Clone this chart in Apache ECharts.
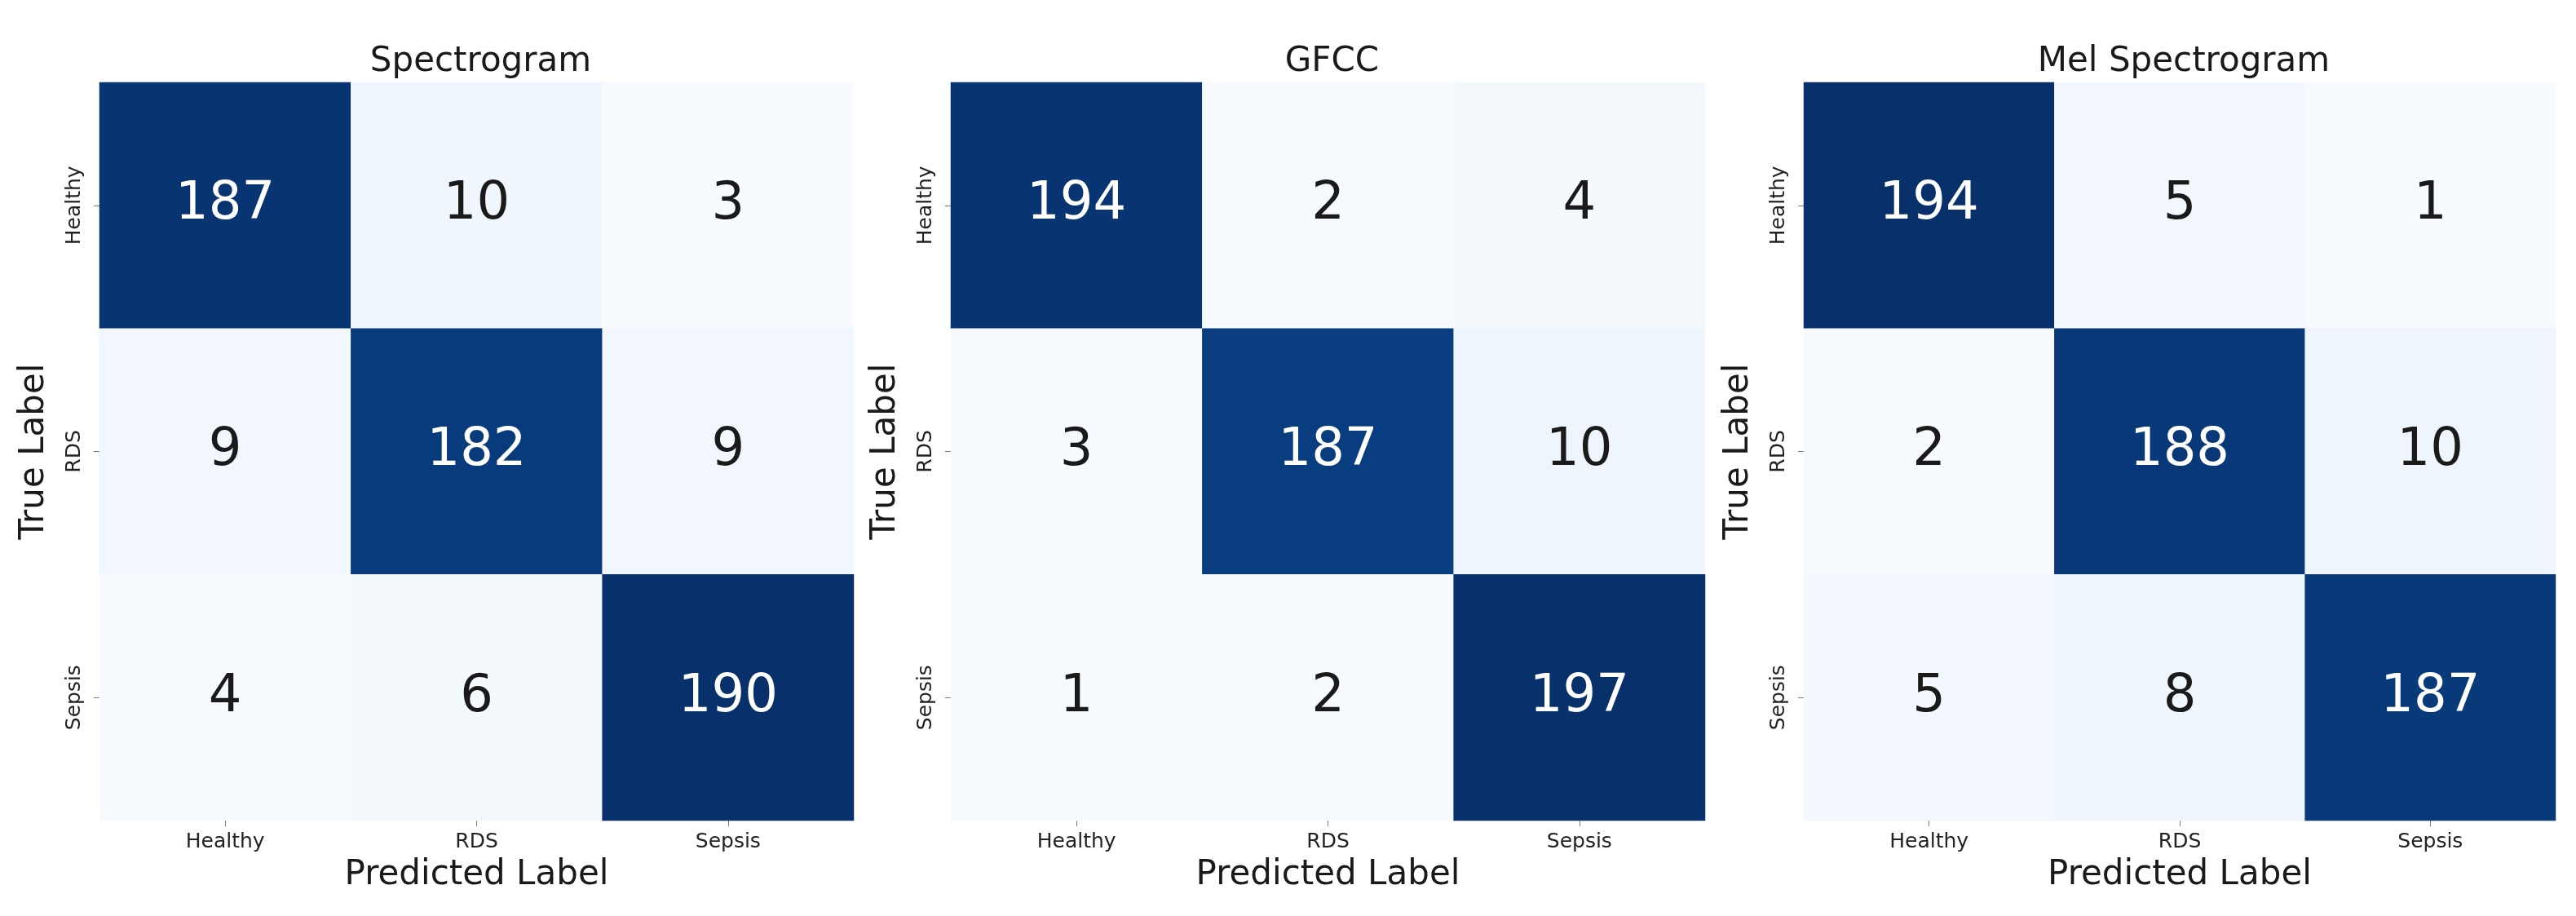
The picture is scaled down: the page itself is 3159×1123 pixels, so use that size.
<!DOCTYPE html>
<html>
<head>
<meta charset="utf-8">
<script src="https://cdn.jsdelivr.net/npm/echarts@6/dist/echarts.min.js"></script>
<style>
  html, body { margin: 0; padding: 0; background: #ffffff; }
  #chart { width: 3159px; height: 1123px; }
</style>
</head>
<body>
<div id="chart"></div>
<script>
  // class labels (rows = true, columns = predicted)
  const classes = ['Healthy', 'RDS', 'Sepsis'];
  const titles = ['Spectrogram', 'GFCC', 'Mel Spectrogram'];

  // confusion matrices, row by row
  const spectrogram = [[187, 10, 3], [9, 182, 9], [4, 6, 190]];
  const gfcc = [[194, 2, 4], [3, 187, 10], [1, 2, 197]];
  const melSpectrogram = [[194, 5, 1], [2, 188, 10], [5, 8, 187]];

  const matrices = [spectrogram, gfcc, melSpectrogram];

  // matplotlib "Blues"
  const blues = ['#f7fbff', '#deebf7', '#c6dbef', '#9ecae1', '#6baed6',
                 '#4292c6', '#2171b5', '#08519c', '#08306b'];

  const panels = [
    {left: 122, width: 925},
    {left: 1166, width: 925},
    {left: 2212, width: 922}
  ];
  const gridTop = 101, gridHeight = 905;
  const font = 'DejaVu Sans';

  let grid = [], xAxis = [], yAxis = [], series = [], visualMap = [], title = [];

  matrices.forEach((m, i) => {
    let flat = [].concat(...m);
    let lo = Math.min(...flat), hi = Math.max(...flat);
    let data = [];
    for (let r = 0; r < m.length; r++) {
      for (let c = 0; c < m[r].length; c++) {
        let v = m[r][c];
        data.push({
          value: [c, r, v],
          label: {color: v > (lo + hi) / 2 ? '#ffffff' : '#1a1a1a'}
        });
      }
    }

    grid.push({left: panels[i].left, top: gridTop, width: panels[i].width, height: gridHeight});

    title.push({
      text: titles[i],
      left: panels[i].left + panels[i].width / 2,
      top: 50,
      textAlign: 'center',
      textStyle: {fontFamily: font, fontSize: 42, fontWeight: 'normal', color: '#1a1a1a'}
    });

    xAxis.push({
      type: 'category',
      gridIndex: i,
      data: classes,
      name: 'Predicted Label',
      nameLocation: 'middle',
      nameGap: 46,
      nameTextStyle: {fontFamily: font, fontSize: 42, color: '#1a1a1a'},
      axisLine: {show: false},
      axisTick: {show: true, alignWithLabel: true, length: 7, lineStyle: {color: '#777'}},
      axisLabel: {fontFamily: font, fontSize: 25, color: '#222', margin: 14},
      splitArea: {show: false},
      splitLine: {show: false}
    });

    yAxis.push({
      type: 'category',
      gridIndex: i,
      data: classes,
      inverse: true,
      name: 'True Label',
      nameLocation: 'middle',
      nameGap: 59,
      nameTextStyle: {fontFamily: font, fontSize: 42, color: '#1a1a1a'},
      axisLine: {show: false},
      axisTick: {show: true, alignWithLabel: true, length: 7, lineStyle: {color: '#777'}},
      axisLabel: {fontFamily: font, fontSize: 25, color: '#222', rotate: 90, margin: 18},
      splitArea: {show: false},
      splitLine: {show: false}
    });

    visualMap.push({
      type: 'continuous',
      show: false,
      seriesIndex: i,
      dimension: 2,
      min: lo,
      max: hi,
      inRange: {color: blues}
    });

    series.push({
      type: 'heatmap',
      xAxisIndex: i,
      yAxisIndex: i,
      data: data,
      label: {show: true, fontFamily: font, fontSize: 64},
      itemStyle: {borderWidth: 0},
      emphasis: {disabled: true}
    });
  });

  const myChart = echarts.init(document.getElementById('chart'));
  myChart.setOption({
    animation: false,
    backgroundColor: '#ffffff',
    title: title,
    grid: grid,
    xAxis: xAxis,
    yAxis: yAxis,
    visualMap: visualMap,
    series: series
  });
</script>
</body>
</html>
